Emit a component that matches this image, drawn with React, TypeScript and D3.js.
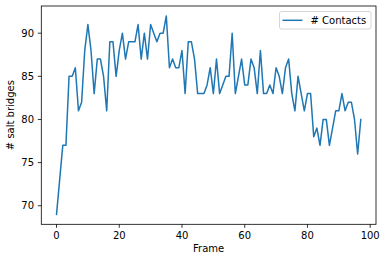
import React from "react";
import * as d3 from "d3";

const contacts: number[] = [
  69, 73, 77, 77, 85, 85, 86, 81, 82, 88,
  91, 88, 83, 87, 87, 85, 81, 89, 89, 85,
  88, 90, 87, 89, 89, 89, 91, 87, 90, 87,
  91, 90, 89, 90, 90, 92, 86, 87, 86, 86,
  88, 83, 89, 89, 87, 83, 83, 83, 84, 86,
  83, 87, 83, 84, 85, 85, 90, 83, 85, 87,
  84, 84, 87, 86, 83, 88, 83, 83, 84, 83,
  86, 85, 83, 86, 87, 83, 81, 85, 83, 81,
  83, 83, 78, 79, 77, 80, 80, 77, 79, 81,
  81, 83, 81, 82, 82, 80, 76, 80,
];
const frames: number[] = contacts.map((_, i) => i);
const xTicks: number[] = [0, 20, 40, 60, 80, 100];
const yTicks: number[] = [70, 75, 80, 85, 90];
const seriesName = "# Contacts";
const xLabel = "Frame";
const yLabel = "# salt bridges";

const W = 386;
const H = 262;
const left = 41.3;
const right = 376;
const top = 6;
const bottom = 224.3;
const color = "#1f77b4";
const font = "DejaVu Sans, sans-serif";

export default function App() {
  const xMin = d3.min(frames)!;
  const xMax = d3.max(frames)!;
  const yMin = d3.min(contacts)!;
  const yMax = d3.max(contacts)!;
  const xm = (xMax - xMin) * 0.05;
  const ym = (yMax - yMin) * 0.05;
  const x = d3.scaleLinear().domain([xMin - xm, xMax + xm]).range([left, right]);
  const y = d3.scaleLinear().domain([yMin - ym, yMax + ym]).range([bottom, top]);
  const line = d3
    .line<number>()
    .x((_, i) => x(frames[i]))
    .y((d) => y(d));

  return (
    <svg
      width={W}
      height={H}
      style={{ position: "absolute", left: 0, top: 0, background: "#fff" }}
      fontFamily={font}
    >
      <rect x={0} y={0} width={W} height={H} fill="#fff" />
      <path d={line(contacts) ?? ""} fill="none" stroke={color} strokeWidth={1.5} strokeLinejoin="round" strokeLinecap="square" />
      <rect x={left} y={top} width={right - left} height={bottom - top} fill="none" stroke="#000" strokeWidth={0.8} />
      {xTicks.map((t) => (
        <g key={"x" + t} transform={`translate(${x(t)},${bottom})`}>
          <line y1={0} y2={3.5} stroke="#000" strokeWidth={0.8} />
          <text y={15} textAnchor="middle" fontSize={10} fill="#000">
            {t}
          </text>
        </g>
      ))}
      {yTicks.map((t) => (
        <g key={"y" + t} transform={`translate(${left},${y(t)})`}>
          <line x1={0} x2={-3.5} stroke="#000" strokeWidth={0.8} />
          <text x={-7.3} dy="0.35em" textAnchor="end" fontSize={10} fill="#000">
            {t}
          </text>
        </g>
      ))}
      <text x={(left + right) / 2} y={251.5} textAnchor="middle" fontSize={10} fill="#000">
        {xLabel}
      </text>
      <text
        transform={`translate(14,${(top + bottom) / 2}) rotate(-90)`}
        textAnchor="middle"
        fontSize={10}
        fill="#000"
      >
        {yLabel}
      </text>
      <g transform="translate(279.5,11.5)">
        <rect width={91.5} height={17.5} rx={2} fill="#fff" fillOpacity={0.8} stroke="#ccc" strokeWidth={0.8} />
        <line x1={3} x2={23} y1={8.8} y2={8.8} stroke={color} strokeWidth={1.5} />
        <text x={31} y={12.3} fontSize={10} fill="#000">
          {seriesName}
        </text>
      </g>
    </svg>
  );
}
